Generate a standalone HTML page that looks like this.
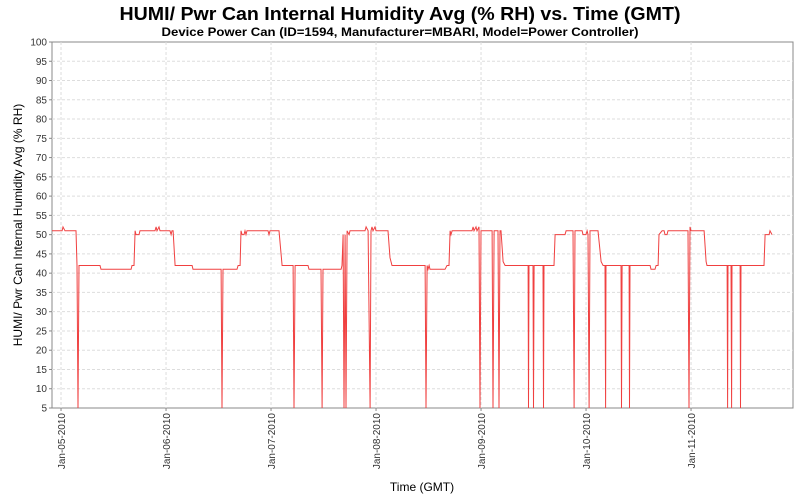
<!DOCTYPE html>
<html><head><meta charset="utf-8"><style>
html,body{margin:0;padding:0;background:#fff;}
svg{display:block;font-family:"Liberation Sans",sans-serif;}
</style></head><body>
<svg id="chart" width="800" height="500">
<text x="400" y="20" text-anchor="middle" font-size="18" font-weight="bold" fill="#000" textLength="561" lengthAdjust="spacingAndGlyphs">HUMI/ Pwr Can Internal Humidity Avg (% RH) vs. Time (GMT)</text>
<text x="400" y="36" text-anchor="middle" font-size="12" font-weight="bold" fill="#000" textLength="477" lengthAdjust="spacingAndGlyphs">Device Power Can (ID=1594, Manufacturer=MBARI, Model=Power Controller)</text>
<rect x="52" y="42" width="741" height="366" fill="#fff" stroke="#888" stroke-width="1"/>
<g id="grid"></g><g id="yaxis"></g><g id="xaxis"></g><g id="series"></g>
<text transform="translate(22,225) rotate(-90)" text-anchor="middle" font-size="12" fill="#000">HUMI/ Pwr Can Internal Humidity Avg (% RH)</text>
<text x="422" y="491" text-anchor="middle" font-size="12" fill="#000">Time (GMT)</text>
</svg>
<script>
const yTicks=[5,10,15,20,25,30,35,40,45,50,55,60,65,70,75,80,85,90,95,100];
const xTickDays=[0,1,2,3,4,5,6];
const xTickLabels=["Jan-05-2010","Jan-06-2010","Jan-07-2010","Jan-08-2010","Jan-09-2010","Jan-10-2010","Jan-11-2010"];
const times=[-0.086,0.010,0.019,0.038,0.143,0.152,0.162,0.171,0.371,0.381,0.667,0.676,0.695,0.705,0.714,0.743,0.752,0.895,0.905,0.914,0.933,0.943,1.038,1.048,1.057,1.067,1.086,1.248,1.257,1.524,1.533,1.543,1.676,1.686,1.705,1.714,1.724,1.743,1.752,1.762,1.771,1.971,1.981,1.990,2.076,2.105,2.210,2.219,2.229,2.352,2.362,2.476,2.486,2.495,2.667,2.676,2.686,2.695,2.705,2.714,2.724,2.743,2.752,2.895,2.905,2.924,2.943,2.952,2.962,2.971,2.990,3.000,3.114,3.133,3.152,3.467,3.476,3.486,3.495,3.505,3.514,3.657,3.676,3.695,3.705,3.714,3.724,3.914,3.924,3.933,3.952,3.962,3.981,3.990,4.000,4.105,4.114,4.124,4.162,4.171,4.181,4.190,4.210,4.229,4.448,4.452,4.457,4.495,4.500,4.505,4.590,4.595,4.600,4.695,4.705,4.800,4.810,4.876,4.886,4.895,4.962,4.971,5.000,5.010,5.019,5.029,5.038,5.114,5.143,5.162,5.181,5.186,5.190,5.333,5.338,5.343,5.410,5.414,5.419,5.610,5.619,5.657,5.667,5.686,5.695,5.724,5.743,5.752,5.771,5.781,5.971,5.981,5.990,6.000,6.124,6.143,6.152,6.343,6.348,6.352,6.381,6.386,6.390,6.467,6.471,6.476,6.695,6.705,6.743,6.752,6.771];
const humidity=[51,51,52,51,51,42,5,42,42,41,41,42,42,51,50,50,51,51,52,51,52,51,51,50,51,51,42,42,41,41,5,41,41,42,42,51,50,50,51,50,51,51,50,51,51,42,42,5,42,42,41,41,5,41,41,42,50,5,50,5,51,50,51,51,52,51,5,51,52,51,52,51,51,44,42,42,5,42,41,42,41,41,42,42,51,50,51,51,52,51,52,51,52,5,51,51,5,51,51,5,51,51,43,42,42,5,42,42,5,42,42,5,42,42,50,50,51,51,5,51,51,50,50,51,50,5,51,51,43,42,42,5,42,42,5,42,42,5,42,42,41,41,42,42,50,51,51,50,50,51,51,5,52,51,51,43,42,42,5,42,42,5,42,42,5,42,42,50,50,51,50];
const NS="http://www.w3.org/2000/svg";
const L=52,R=793,T=42,B=408,d0=-0.086,d1=6.971,v0=5,v1=100;
function xs(d){return L+(d-d0)/(d1-d0)*(R-L);}
function ys(v){return B-(v-v0)/(v1-v0)*(B-T);}
function mk(tag,attrs,parent){const e=document.createElementNS(NS,tag);for(const k in attrs)e.setAttribute(k,attrs[k]);document.getElementById(parent).appendChild(e);return e;}
yTicks.forEach(v=>{
  const y=ys(v);
  if(v>5&&v<100){const g=mk('line',{x1:L,x2:R,y1:y,y2:y,stroke:'#ddd','stroke-dasharray':'3,2'},'grid');
  
  }
  const tk=mk('line',{x1:L-3,x2:L,y1:y,y2:y,stroke:'#888'},'yaxis');
  
  
  const t=mk('text',{x:L-5,y:y+3.5,'text-anchor':'end','font-size':'10',fill:'#333'},'yaxis');
  
  
  t.textContent=v;
});
xTickDays.forEach((d,i)=>{
  const x=xs(d);
  const g=mk('line',{x1:x,x2:x,y1:T,y2:B,stroke:'#ddd','stroke-dasharray':'3,2'},'grid');
  
  
  const tk=mk('line',{x1:x,x2:x,y1:B,y2:B+3,stroke:'#888'},'xaxis');
  
  
  const t=mk('text',{transform:`translate(${x+4},${B+5}) rotate(-90)`,'text-anchor':'end','font-size':'10',fill:'#333'},'xaxis');
  
  
  t.textContent=xTickLabels[i];
});
const pts=times.map((d,i)=>xs(d).toFixed(1)+','+ys(humidity[i]).toFixed(1)).join(' ');
const pl=mk('polyline',{points:pts,fill:'none',stroke:'#f04040','stroke-width':'1'},'series');


</script>
</body></html>
